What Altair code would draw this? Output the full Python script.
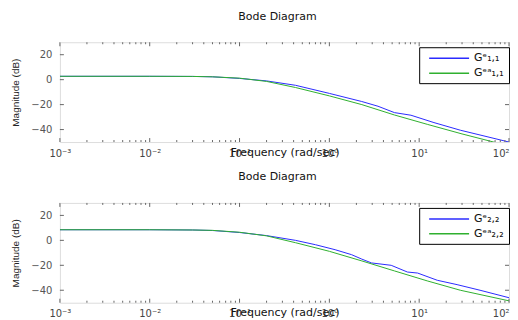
import altair as alt
import pandas as pd

# ---- data ----
f11_e = [0.001, 0.01, 0.03, 0.05, 0.1, 0.2, 0.42, 1.0, 2.29, 3.48, 5.3, 8.1, 14.6, 28.7, 100]
db11_e = [2.7, 2.7, 2.6, 2.3, 1.0, -1.0, -4.5, -11.0, -17.5, -21.3, -26.4, -28.5, -34.4, -40.5, -50]
f11_ea = [0.001, 0.01, 0.03, 0.05, 0.1, 0.2, 0.42, 1.0, 2.3, 5.3, 12.3, 30, 66.6, 100]
db11_ea = [2.7, 2.7, 2.6, 2.3, 1.2, -1.4, -6.3, -13.0, -20.0, -28.3, -35.8, -43.5, -49.9, -53]

f22_e = [0.001, 0.01, 0.03, 0.05, 0.1, 0.2, 0.42, 0.7, 1.16, 1.77, 2.29, 2.94, 4.88, 7.4, 9.6,
         15.9, 26.4, 47.6, 100]
db22_e = [8.5, 8.5, 8.3, 7.9, 6.3, 3.8, 0.0, -3.5, -7.5, -11.5, -15.0, -18.1, -20.0, -25.4, -26.2,
          -32.0, -35.5, -40.0, -46.0]
f22_ea = [0.001, 0.01, 0.03, 0.05, 0.1, 0.2, 0.42, 1.0, 2.3, 5.3, 12.3, 28.7, 100]
db22_ea = [8.5, 8.5, 8.3, 8.0, 6.5, 3.6, -1.9, -8.8, -16.5, -24.5, -32.5, -40.0, -48.5]

labels_11 = ["G\u1d49\u2081,\u2081", "G\u1d49\u1d43\u2081,\u2081"]
labels_22 = ["G\u1d49\u2082,\u2082", "G\u1d49\u1d43\u2082,\u2082"]
line_colors = ["#2b2bff", "#2fb02f"]

x_tick_values = [0.001, 0.01, 0.1, 1, 10, 100]
x_tick_labels = ["10\u207b\u00b3", "10\u207b\u00b2", "10\u207b\u00b9", "10\u2070", "10\u00b9", "10\u00b2"]
y_tick_values = [-40, -20, 0, 20]

minor_ticks = [m * d for d in [0.001, 0.01, 0.1, 1, 10] for m in range(2, 10)]

W, H = 450, 100
FONT = "DejaVu Sans"

label_expr = "[" + ",".join("'%s'" % l for l in x_tick_labels) + "][round(log(datum.value)/LN10)+3]"


def panel(fe, de, fa, da, labels):
    df = pd.concat([
        pd.DataFrame({"f": fe, "db": de, "s": labels[0]}),
        pd.DataFrame({"f": fa, "db": da, "s": labels[1]}),
    ])
    xscale = alt.Scale(type="log", domain=[0.001, 100], nice=False)
    yscale = alt.Scale(domain=[-50, 30], nice=False)
    xaxis = alt.Axis(
        values=x_tick_values, labelExpr=label_expr, title="Frequency  (rad/sec)",
        tickSize=0, domain=False, grid=False, labelPadding=6, labelFlush=False,
        labelOverlap=False,
        labelAlign=alt.expr("datum.value >= 100 ? 'right' : 'center'"),
        labelFont=FONT, labelFontSize=10, labelColor="#444",
        titleFont=FONT, titleFontSize=11, titleFontWeight="normal", titleColor="#111",
        titleY=13, titleBaseline="alphabetic")
    yaxis = alt.Axis(
        values=y_tick_values, title="Magnitude (dB)", tickSize=0, domain=False, grid=False,
        labelPadding=8, labelFont=FONT, labelFontSize=10, labelColor="#555",
        titleFont="Liberation Sans", titleFontSize=10, titleFontWeight="normal",
        titleColor="#222", titlePadding=10)
    lines = alt.Chart(df).mark_line(clip=True, strokeWidth=1).encode(
        x=alt.X("f:Q", scale=xscale, axis=xaxis),
        y=alt.Y("db:Q", scale=yscale, axis=yaxis),
        color=alt.Color("s:N", scale=alt.Scale(domain=labels, range=line_colors),
                        legend=alt.Legend(orient="none", legendX=360, legendY=5, title=None,
                                          strokeColor="black", fillColor="white", padding=5,
                                          symbolType="M-0.2,0H7.8", symbolSize=100,
                                          symbolFillColor="transparent",
                                          symbolStrokeWidth=1.5, labelFont=FONT,
                                          labelFontSize=11, labelColor="#111", rowPadding=4,
                                          labelOffset=38)),
        order=alt.Order("f:Q"),
    )
    xt = pd.DataFrame({"f": minor_ticks})
    xM = pd.DataFrame({"f": x_tick_values})
    yt = pd.DataFrame({"db": y_tick_values})
    tick_style = dict(color="#666", strokeWidth=1)
    layers = [lines]
    for data, ln in [(xt, 2), (xM, 4)]:
        layers.append(alt.Chart(data).mark_rule(**tick_style).encode(
            x=alt.X("f:Q", scale=xscale, axis=xaxis), y=alt.value(H), y2=alt.value(H - ln)))
        layers.append(alt.Chart(data).mark_rule(**tick_style).encode(
            x=alt.X("f:Q", scale=xscale, axis=xaxis), y=alt.value(0), y2=alt.value(ln)))
    layers.append(alt.Chart(yt).mark_rule(**tick_style).encode(
        y=alt.Y("db:Q", scale=yscale, axis=yaxis), x=alt.value(0), x2=alt.value(4)))
    layers.append(alt.Chart(yt).mark_rule(**tick_style).encode(
        y=alt.Y("db:Q", scale=yscale, axis=yaxis), x=alt.value(W - 4), x2=alt.value(W)))
    return alt.layer(*layers).properties(
        width=W, height=H,
        title=alt.TitleParams("Bode Diagram", font=FONT, fontSize=11, fontWeight="normal",
                              color="#111", offset=20, dx=-7))


top = panel(f11_e, db11_e, f11_ea, db11_ea, labels_11)
bottom = panel(f22_e, db22_e, f22_ea, db22_ea, labels_22)

chart = alt.vconcat(top, bottom, spacing=12).resolve_scale(color="independent").properties(
    padding={"left": 2, "top": 2, "right": 0, "bottom": 0}
).configure_view(stroke="#555", strokeWidth=1).configure(background="white")

chart.save("out.html", embed_options={"renderer": "svg", "actions": False})
